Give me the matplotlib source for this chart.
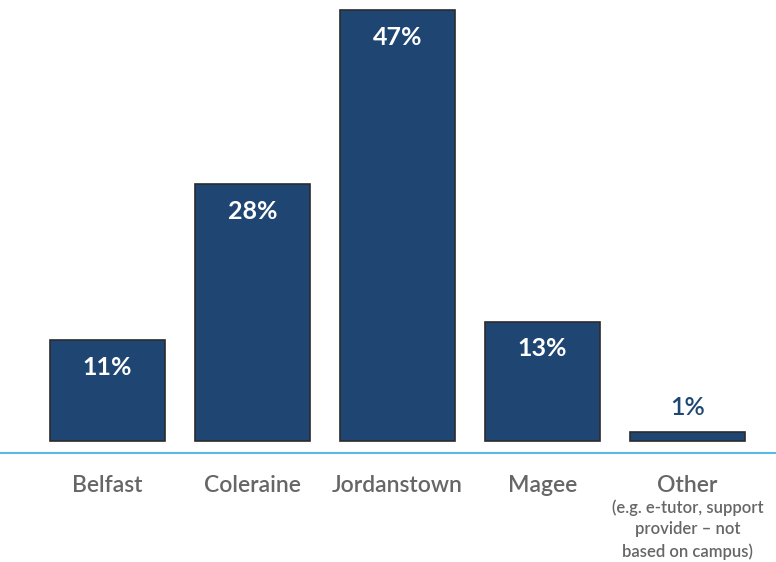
import matplotlib
matplotlib.use("Agg")
import matplotlib.pyplot as plt

categories = ["Belfast", "Coleraine", "Jordanstown", "Magee", "Other"]
values = [11, 28, 47, 13, 1]
value_labels = ["11%", "28%", "47%", "13%", "1%"]
other_note = "(e.g. e-tutor, support\nprovider \u2013 not\nbased on campus)"

bar_color = "#1F4673"
edge_color = "#2B2B2B"
grey = "#666666"
line_color = "#5AB8E6"

plt.rcParams['font.family'] = ['Lato', 'DejaVu Sans']

fig = plt.figure(figsize=(7.76, 5.62), dpi=100)
ax = fig.add_axes([0, 0, 1, 1])
ax.set_xlim(-0.741, 4.61)
ax.set_ylim(-13.2, 48.1)
ax.axis("off")

x = list(range(len(categories)))
ax.bar(x, values, width=0.79, color=bar_color, edgecolor=edge_color, linewidth=1.2, zorder=2)
ax.axhline(-1.31, color=line_color, linewidth=1.5, zorder=1)

for xi, v, lab in zip(x, values, value_labels):
    if v >= 5:
        ax.annotate(lab, (xi, v), xytext=(0, -27), textcoords="offset pixels",
                    ha="center", va="center", color="white", fontsize=18, fontweight="bold")
    else:
        ax.annotate(lab, (xi, v), xytext=(0, 24), textcoords="offset pixels",
                    ha="center", va="center", color=bar_color, fontsize=18, fontweight="semibold")

for xi, cat in zip(x, categories):
    ax.annotate(cat, (xi, -1.31), xytext=(0, -33), textcoords="offset pixels",
                ha="center", va="center", color=grey, fontsize=16.5, fontweight="semibold")

ax.annotate(other_note, (x[-1], -1.31), xytext=(0, -46), textcoords="offset pixels",
            ha="center", va="top", color=grey, fontsize=12, fontweight="semibold",
            linespacing=1.45)

fig.savefig("out.png", dpi=100)
